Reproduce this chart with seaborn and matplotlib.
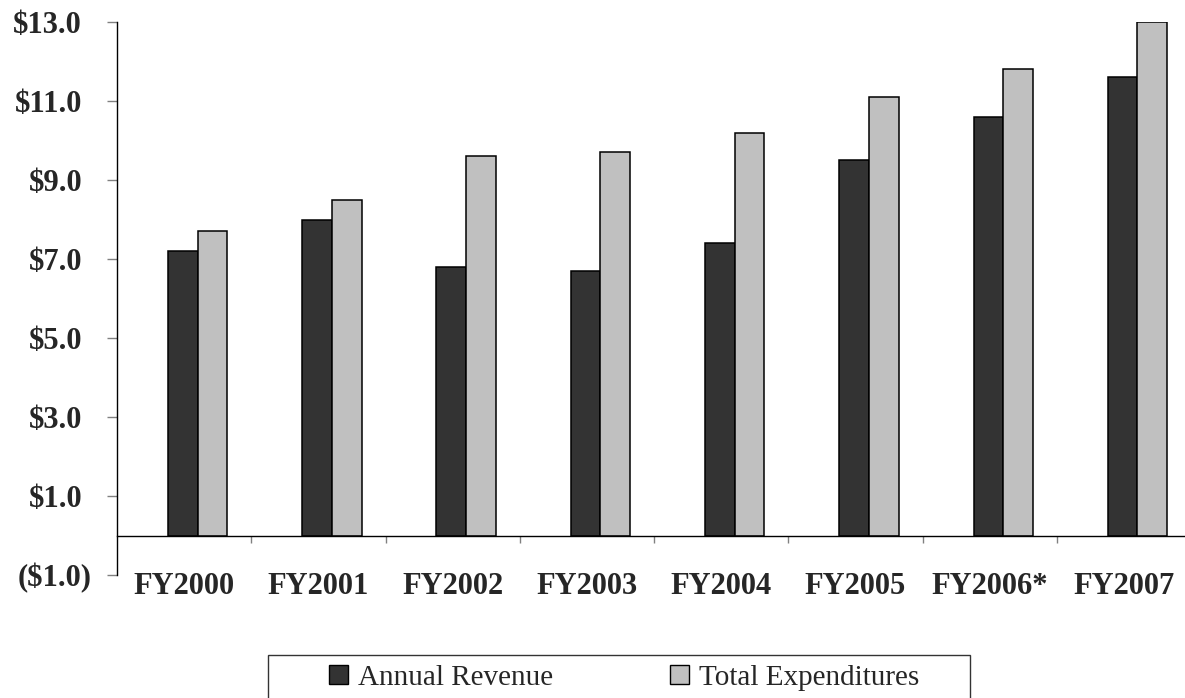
import numpy as np
import pandas as pd
import matplotlib
matplotlib.use("Agg")
import matplotlib.pyplot as plt
import matplotlib.transforms as mtransforms
from matplotlib.patches import Patch, Rectangle
import seaborn as sns

# Data (billions of dollars)
years = ["FY2000", "FY2001", "FY2002", "FY2003", "FY2004", "FY2005", "FY2006*", "FY2007"]
annual_revenue = [7.2, 8.0, 6.8, 6.7, 7.4, 9.5, 10.6, 11.6]
total_expenditures = [7.7, 8.5, 9.6, 9.7, 10.2, 11.1, 11.8, 13.0]
series_names = ["Annual Revenue", "Total Expenditures"]
colors = ["#333333", "#c0c0c0"]
y_ticks = [-1, 1, 3, 5, 7, 9, 11, 13]

df = pd.DataFrame({
    "year": years * 2,
    "value": annual_revenue + total_expenditures,
    "series": [series_names[0]] * len(years) + [series_names[1]] * len(years),
})

sns.set_style("white")
plt.rcParams["font.family"] = ["Liberation Serif", "DejaVu Serif"]

fig = plt.figure(figsize=(11.85, 6.98), dpi=100)
ax = fig.add_axes([117 / 1185, 1 - 575 / 698, 1 - 117 / 1185, (575 - 22) / 698])

sns.barplot(data=df, x="year", y="value", hue="series", palette=colors,
            width=0.442, gap=0, edgecolor="black", linewidth=1.1,
            legend=False, ax=ax)

ax.set_ylim(-1, 13)
ax.set_xlim(-0.6, 7.354)
ax.set_xlabel("")
ax.set_ylabel("")

# spines first (moving a spine resets its ticks)
for side in ["top", "right"]:
    ax.spines[side].set_visible(False)
ax.spines["bottom"].set_position(("data", 0))
ax.spines["bottom"].set_color("black")
ax.spines["bottom"].set_linewidth(1)
ax.spines["left"].set_color("black")
ax.spines["left"].set_linewidth(1)

# y axis: Excel accounting style labels
ax.set_yticks(y_ticks)
ax.set_yticklabels([f"(${abs(v):.1f})" if v < 0 else f"${v:.1f}" for v in y_ticks])
ax.tick_params(axis="y", direction="out", length=7.2, width=1, color="#808080",
               pad=18, left=True, labelsize=22)
for lab in ax.get_yticklabels():
    lab.set_fontweight("bold")
    if lab.get_text().startswith("("):
        lab.set_transform(lab.get_transform() + mtransforms.ScaledTranslation(0.10, 0, fig.dpi_scale_trans))

# x axis: labels at category, tick marks between categories
n = len(years)
ax.set_xticks(np.arange(n) - 0.1)
ax.set_xticklabels(years)
ax.set_xticks(np.arange(n - 1) + 0.4, minor=True)
ax.tick_params(axis="x", which="major", length=0, pad=26, labelsize=22)
ax.tick_params(axis="x", which="minor", direction="out", length=5, width=1,
               color="#808080", bottom=True)
for lab in ax.get_xticklabels():
    lab.set_fontweight("bold")

# legend with its own box running off the bottom edge
handles = [Patch(facecolor=c, edgecolor="black", linewidth=1) for c in colors]
fig.legend(handles, series_names, loc="center left",
           bbox_to_anchor=(329 / 1185, 1 - 678 / 698), ncol=2, frameon=False,
           fontsize=21, borderpad=0, borderaxespad=0, handlelength=0.65,
           handleheight=0.65, handletextpad=0.34, columnspacing=4.0)
fig.add_artist(Rectangle((268 / 1185, -0.05), (970 - 268) / 1185, 0.05 + (698 - 655) / 698,
                         transform=fig.transFigure, fill=False, edgecolor="#333333", linewidth=1))

fig.savefig("out.png", dpi=100)
